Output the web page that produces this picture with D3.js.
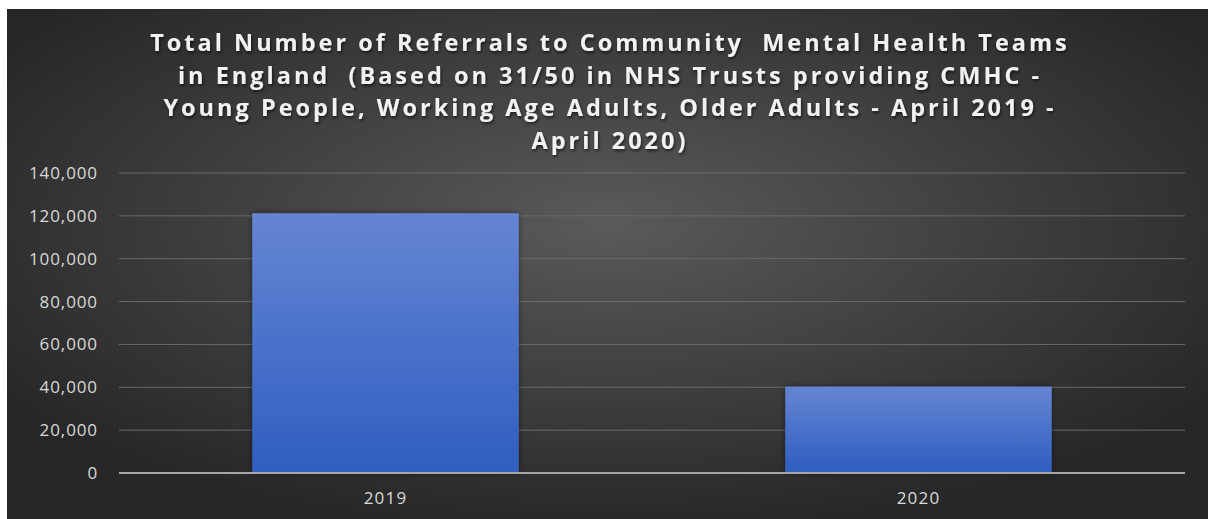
<!DOCTYPE html>
<html lang="en">
<head>
    <meta charset="UTF-8">
    <title>CMHT Referrals</title>
    <script src="https://d3js.org/d3.v7.min.js"></script>
    <style>
        html, body { margin: 0; padding: 0; background: #fff; }
        svg { display: block; }
        .title text { white-space: pre; }
    </style>
</head>
<body>
<script>

    // data
    var years = ['2019', '2020'];
    var referrals = [121200, 40300];
    var yTicks = [0, 20000, 40000, 60000, 80000, 100000, 120000, 140000];
    var titleLines = [
        'Total Number of Referrals to Community  Mental Health Teams',
        'in England  (Based on 31/50 in NHS Trusts providing CMHC -',
        'Young People, Working Age Adults, Older Adults - April 2019 -',
        'April 2020)'
    ];

    var width = 1209, height = 519;
    var margin = {top: 173, right: 24, bottom: 46, left: 119};
    var innerW = width - margin.left - margin.right,
        innerH = height - margin.top - margin.bottom;

    var svg = d3.select('body').append('svg')
        .attr('width', width)
        .attr('height', height);

    var defs = svg.append('defs');

    // dark radial background
    var bg = defs.append('radialGradient')
        .attr('id', 'bg')
        .attr('cx', '50%').attr('cy', '42%')
        .attr('r', '62%');
    bg.append('stop').attr('offset', '0%').attr('stop-color', '#5a5a5a');
    bg.append('stop').attr('offset', '100%').attr('stop-color', '#262626');

    var barGrad = defs.append('linearGradient')
        .attr('id', 'bar')
        .attr('x1', 0).attr('y1', 0).attr('x2', 0).attr('y2', 1);
    barGrad.append('stop').attr('offset', '0%').attr('stop-color', '#6585d3');
    barGrad.append('stop').attr('offset', '100%').attr('stop-color', '#2f5ec0');

    var shadow = defs.append('filter').attr('id', 'shadow')
        .attr('x', '-10%').attr('y', '-10%').attr('width', '120%').attr('height', '130%');
    shadow.append('feDropShadow')
        .attr('dx', 1).attr('dy', 2).attr('stdDeviation', 1.5)
        .attr('flood-color', '#000').attr('flood-opacity', 0.6);

    var barShadow = defs.append('filter').attr('id', 'barShadow')
        .attr('x', '-5%').attr('y', '-5%').attr('width', '110%').attr('height', '110%');
    barShadow.append('feDropShadow')
        .attr('dx', 0).attr('dy', 0).attr('stdDeviation', 3)
        .attr('flood-color', '#000').attr('flood-opacity', 0.45);

    svg.append('rect')
        .attr('x', 7).attr('y', 9)
        .attr('width', width - 8).attr('height', height - 9)
        .attr('fill', 'url(#bg)');

    // title
    svg.append('g')
        .attr('class', 'title')
        .attr('filter', 'url(#shadow)')
        .selectAll('text')
        .data(titleLines)
        .enter()
        .append('text')
        .attr('x', 610)
        .attr('y', function (d, i) { return 51 + i * 32.5; })
        .attr('text-anchor', 'middle')
        .attr('fill', '#f2f2f2')
        .style('font-family', '"Open Sans", sans-serif')
        .style('font-weight', 'bold')
        .style('font-size', '23.5px')
        .style('letter-spacing', '3px')
        .text(function (d) { return d; });

    var g = svg.append('g')
        .attr('transform', 'translate(' + margin.left + ',' + margin.top + ')');

    var x = d3.scaleBand()
        .domain(years)
        .range([0, innerW])
        .paddingInner(0.5)
        .paddingOuter(0.25);

    var y = d3.scaleLinear()
        .domain([0, 140000])
        .range([innerH, 0]);

    // gridlines
    g.append('g')
        .selectAll('line')
        .data(yTicks.filter(function (d) { return d > 0; }))
        .enter()
        .append('line')
        .attr('x1', 0).attr('x2', innerW)
        .attr('y1', function (d) { return y(d); })
        .attr('y2', function (d) { return y(d); })
        .attr('stroke', '#6a6a6a')
        .attr('stroke-width', 1);

    // y labels
    var yAxis = g.append('g')
        .call(d3.axisLeft(y).tickValues(yTicks).tickSize(0).tickPadding(21)
            .tickFormat(d3.format(',')));
    yAxis.select('.domain').remove();
    yAxis.selectAll('text')
        .attr('fill', '#d9d9d9')
        .style('font-family', '"Open Sans", sans-serif')
        .style('font-size', '17px')
        .style('letter-spacing', '0.9px');

    // bars
    g.append('g')
        .selectAll('rect')
        .data(years)
        .enter()
        .append('rect')
        .attr('x', function (d) { return x(d); })
        .attr('y', function (d, i) { return y(referrals[i]); })
        .attr('width', x.bandwidth())
        .attr('height', function (d, i) { return innerH - y(referrals[i]); })
        .attr('fill', 'url(#bar)')
        .attr('filter', 'url(#barShadow)');

    // baseline
    g.append('line')
        .attr('x1', 0).attr('x2', innerW)
        .attr('y1', y(0)).attr('y2', y(0))
        .attr('stroke', '#a6a6a6')
        .attr('stroke-width', 2);

    // x labels
    var xAxis = g.append('g')
        .attr('transform', 'translate(0,' + innerH + ')')
        .call(d3.axisBottom(x).tickSize(0).tickPadding(19));
    xAxis.select('.domain').remove();
    xAxis.selectAll('text')
        .attr('fill', '#d9d9d9')
        .style('font-family', '"Open Sans", sans-serif')
        .style('font-size', '17px')
        .style('letter-spacing', '1.2px');

</script>
</body>
</html>
